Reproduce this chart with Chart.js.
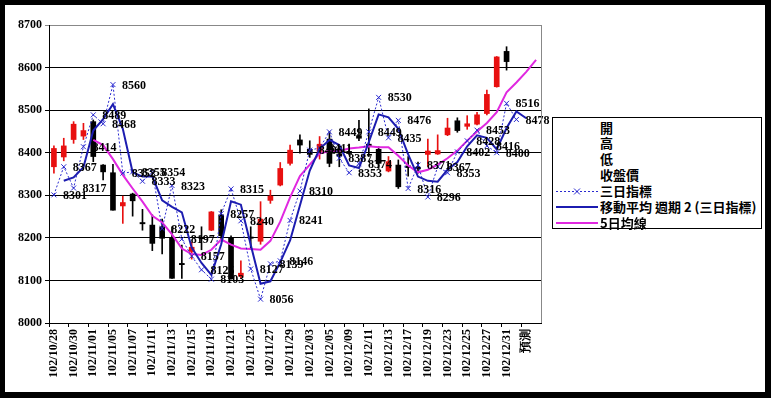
<!DOCTYPE html>
<html>
<head>
<meta charset="utf-8">
<script src="https://cdn.jsdelivr.net/npm/chart.js@4.4.1/dist/chart.umd.min.js"></script>
<style>
  html, body { margin: 0; padding: 0; background: #000; }
  #wrap { position: relative; width: 771px; height: 398px; overflow: hidden; }
  #chart { position: absolute; left: 0; top: 0; }
  #legend {
    position: absolute; left: 552px; top: 117px; width: 210px; height: 112px;
    box-sizing: border-box; border: 1px solid #000; background: #fff;
    font: bold 13px "Noto Sans CJK TC", "Noto Sans CJK SC", sans-serif; color: #000;
  }
  #legend .row { position: absolute; left: 0; width: 100%; height: 16px; line-height: 16px; white-space: nowrap; }
  #legend .row svg { position: absolute; left: 3px; top: 0; }
  #legend .row span { position: absolute; left: 47px; top: 0; }
</style>
</head>
<body>
<div id="wrap">
  <canvas id="chart" width="771" height="398"></canvas>
  <div id="legend"></div>
</div>
<script>
// categories (trading days + forecast slot)
const dates = ['102/10/28','102/10/29','102/10/30','102/10/31','102/11/01','102/11/04','102/11/05','102/11/06',
  '102/11/07','102/11/08','102/11/11','102/11/12','102/11/13','102/11/14','102/11/15','102/11/18','102/11/19',
  '102/11/20','102/11/21','102/11/22','102/11/25','102/11/26','102/11/27','102/11/28','102/11/29','102/12/02',
  '102/12/03','102/12/04','102/12/05','102/12/06','102/12/09','102/12/10','102/12/11','102/12/12','102/12/13',
  '102/12/16','102/12/17','102/12/18','102/12/19','102/12/20','102/12/23','102/12/24','102/12/25','102/12/26',
  '102/12/27','102/12/30','102/12/31','','預測',''];

// candles
const opens  = [8367,8390,8431,8439,8473,8371,8353,8275,8303,8236,8230,8226,8199,8140,8168,8201,8218,8254,8199,8110,
  8202,8192,8288,8324,8375,8430,8408,8403,8432,8397,8403,8440,8420,8408,8357,8371,8369,8366,8396,8397,
  8442,8475,8462,8467,8492,8555,8638];
const highs  = [8416,8434,8473,8469,8477,8372,8373,8298,8305,8267,8254,8244,8226,8183,8190,8226,8262,8266,8205,8146,
  8226,8285,8312,8377,8418,8442,8428,8438,8450,8414,8420,8476,8503,8414,8391,8383,8391,8378,8432,8442,
  8481,8482,8487,8495,8547,8626,8649];
const lows   = [8352,8381,8422,8431,8379,8336,8265,8234,8251,8218,8170,8162,8105,8105,8150,8172,8217,8195,8103,8106,
  8176,8185,8281,8322,8371,8399,8389,8385,8367,8367,8395,8428,8391,8363,8355,8316,8345,8352,8368,8396,
  8440,8448,8455,8465,8489,8554,8594];
const closes = [8410,8416,8467,8452,8391,8355,8265,8283,8287,8233,8187,8199,8105,8137,8178,8198,8261,8205,8104,8117,
  8199,8244,8298,8363,8406,8418,8396,8420,8375,8392,8398,8434,8415,8375,8379,8320,8365,8362,8404,8405,
  8458,8452,8468,8489,8537,8625,8614];

// 三日指標
const threeDay = [8301,8367,8317,8414,8489,8468,8560,8352,8355,8333,8354,8222,8323,8197,8157,8125,8103,8257,8315,8240,
  8127,8056,8139,8146,8241,8310,8406,8411,8449,8387,8353,8374,8449,8530,8435,8476,8316,8371,8296,8367,
  8353,8402,8428,8453,8416,8400,8516,8478,null,null];

// 移動平均 週期 2 (三日指標)
const threeDayMA = [null,8334,8342,8366,8452,8479,8514,8456,8354,8344,8344,8288,8273,8260,8177,8141,8113,8185,8286,8278,
  8184,8092,8098,8143,8194,8276,8358,8409,8430,8418,8370,8364,8425,8490,8483,8456,8396,8344,8334,8332,
  8360,8378,8415,8441,8435,8408,8458,8497,8481,null];

// 5日均線
const fiveDayAvg = [null,null,null,null,8430,8418,8385,8348,8316,8285,8252,8236,8208,8175,8162,8160,8172,8196,8184,8175,
  8174,8172,8193,8238,8295,8345,8372,8398,8404,8404,8410,8412,8415,8413,8413,8393,8370,8354,8360,8372,
  8387,8405,8428,8450,8470,8495,8542,8565,8590,8618];

const UP = '#e81010', DOWN = '#000000';
const BLUE_DOT = '#2a2ad0', BLUE = '#1c1cb0', PINK = '#e028e0';
const candleColor = opens.map((o, i) => closes[i] >= o ? UP : DOWN);
const tickFont = { family: '"Liberation Serif", "DejaVu Serif", serif', size: 12, weight: 'bold' };

const frame = {
  id: 'frame',
  beforeDraw(chart) {
    const c = chart.ctx;
    c.save();
    c.fillStyle = '#000';
    c.fillRect(0, 0, chart.width, chart.height);
    c.fillStyle = '#fff';
    c.fillRect(5, 5, 760, 387);
    c.restore();
  },
  afterDraw(chart) {
    const a = chart.chartArea, c = chart.ctx;
    c.save();
    c.strokeStyle = '#888';
    c.lineWidth = 1;
    c.beginPath();
    c.moveTo(Math.round(a.right) + 0.5, a.top);
    c.lineTo(Math.round(a.right) + 0.5, a.bottom);
    c.stroke();
    c.restore();
  }
};

const pointLabels = {
  id: 'pointLabels',
  afterDatasetsDraw(chart) {
    const meta = chart.getDatasetMeta(2);
    const c = chart.ctx;
    c.save();
    c.font = 'bold 12px "Liberation Serif", "DejaVu Serif", serif';
    c.fillStyle = '#000';
    c.textBaseline = 'middle';
    c.textAlign = 'left';
    meta.data.forEach((pt, i) => {
      if (threeDay[i] == null) return;
      c.fillText(String(threeDay[i]), pt.x + 9, pt.y + 1);
    });
    c.restore();
  }
};

new Chart(document.getElementById('chart'), {
  type: 'bar',
  data: {
    labels: dates,
    datasets: [
      {
        label: '高低',
        data: lows.map((l, i) => [l, highs[i]]),
        backgroundColor: candleColor,
        barThickness: 1,
        grouped: false,
        order: 6
      },
      {
        label: '開收',
        data: opens.map((o, i) => [o, closes[i]]),
        backgroundColor: candleColor,
        barThickness: 5,
        minBarLength: 1,
        grouped: false,
        order: 5
      },
      {
        type: 'line',
        label: '三日指標',
        data: threeDay,
        borderColor: BLUE_DOT,
        borderWidth: 1,
        borderDash: [2, 2],
        pointStyle: 'crossRot',
        pointRadius: 3.5,
        pointBorderColor: BLUE_DOT,
        pointBorderWidth: 1,
        tension: 0,
        order: 3
      },
      {
        type: 'line',
        label: '移動平均 週期 2 (三日指標)',
        data: threeDayMA,
        borderColor: BLUE,
        borderWidth: 2,
        pointRadius: 0,
        tension: 0,
        order: 2
      },
      {
        type: 'line',
        label: '5日均線',
        data: fiveDayAvg,
        borderColor: PINK,
        borderWidth: 2,
        pointRadius: 0,
        tension: 0,
        order: 4
      }
    ]
  },
  options: {
    responsive: false,
    animation: false,
    layout: { padding: { left: 0, top: 25, right: 230, bottom: 0 } },
    plugins: { legend: { display: false }, tooltip: { enabled: false } },
    scales: {
      x: {
        offset: true,
        grid: {
          offset: true,
          drawOnChartArea: false,
          tickLength: 4,
          color: ctx => ctx.index % 2 === 0 ? '#000' : 'rgba(0,0,0,0)'
        },
        border: { color: '#000' },
        ticks: {
          autoSkip: false,
          minRotation: 90,
          maxRotation: 90,
          padding: 2,
          color: '#000',
          font: tickFont,
          callback: (v, i) => i % 2 ? '' : dates[i]
        },
        afterFit: s => { s.height = 75; }
      },
      y: {
        min: 8000,
        max: 8700,
        ticks: { stepSize: 100, padding: 3, color: '#000', font: tickFont, callback: v => String(v) },
        grid: {
          tickLength: 4,
          lineWidth: 1,
          color: ctx => ctx.tick && ctx.tick.value === 8700 ? '#888' : '#000'
        },
        border: { color: '#000' },
        afterFit: s => { s.width = 49; }
      }
    }
  },
  plugins: [frame, pointLabels]
});

// legend
const legendItems = [
  { text: '開', sym: '' },
  { text: '高', sym: '' },
  { text: '低', sym: '' },
  { text: '收盤價', sym: '' },
  { text: '三日指標', sym: `<line x1="0" y1="8.5" x2="42" y2="8.5" stroke="${BLUE_DOT}" stroke-width="1" stroke-dasharray="2,2"/>` +
      `<path d="M18 5.5 L24 11.5 M24 5.5 L18 11.5" stroke="${BLUE_DOT}" stroke-width="1"/>` },
  { text: '移動平均 週期 2 (三日指標)', sym: `<line x1="0" y1="8" x2="42" y2="8" stroke="${BLUE}" stroke-width="2"/>` },
  { text: '5日均線', sym: `<line x1="0" y1="8" x2="42" y2="8" stroke="${PINK}" stroke-width="2"/>` }
];
const lg = document.getElementById('legend');
legendItems.forEach((it, i) => {
  const row = document.createElement('div');
  row.className = 'row';
  row.style.top = (1.5 + i * 15.85) + 'px';
  row.innerHTML = `<svg width="42" height="16">${it.sym}</svg><span>${it.text}</span>`;
  lg.appendChild(row);
});
</script>
</body>
</html>
